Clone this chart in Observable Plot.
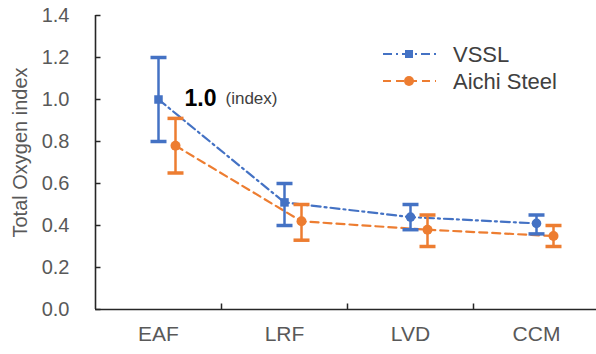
<!DOCTYPE html>
<html><head><meta charset="utf-8">
<script src="https://cdn.jsdelivr.net/npm/d3@7"></script>
<script src="https://cdn.jsdelivr.net/npm/@observablehq/plot@0.6"></script>
<style>
body{margin:0;background:#fff;}
#wrap{position:relative;width:596px;height:354px;overflow:hidden;}
#wrap svg{position:absolute;left:0;top:0;}
</style></head><body><div id="wrap"></div>
<script>
const categories = ["EAF", "LRF", "LVD", "CCM"];
const seriesNames = ["VSSL", "Aichi Steel"];
const vsslMean = [1.00, 0.51, 0.44, 0.41];
const vsslLow = [0.80, 0.40, 0.38, 0.36];
const vsslHigh = [1.20, 0.60, 0.50, 0.45];
const vsslSymbol = ["square", "square", "circle", "circle"];
const aichiMean = [0.78, 0.42, 0.38, 0.35];
const aichiLow = [0.65, 0.33, 0.30, 0.30];
const aichiHigh = [0.91, 0.50, 0.45, 0.40];
const yTicks = [0, 0.2, 0.4, 0.6, 0.8, 1.0, 1.2, 1.4];
const xBoundaries = [1, 2, 3];
const yTitle = "Total Oxygen index";
const noteValue = "1.0";
const noteUnit = "(index)";

const blue = "#4472C4", orange = "#ED7D31", axisColor = "#595959", lineColor = "#262626";
const font = "'Liberation Sans', Arial, sans-serif";

const rows = (mean, lo, hi) => categories.map((c, i) => ({cat: c, pos: i + 0.5, mean: mean[i], lo: lo[i], hi: hi[i]}));
const vs = rows(vsslMean, vsslLow, vsslHigh).map((d, i) => ({...d, sym: vsslSymbol[i]}));
const ai = rows(aichiMean, aichiLow, aichiHigh);
const off = 17;

const cap = {draw(ctx) { ctx.moveTo(-8, 0); ctx.lineTo(8, 0); }};
const tickRight = {draw(ctx) { ctx.moveTo(0, 0); ctx.lineTo(5, 0); }};
const tickUp = {draw(ctx) { ctx.moveTo(0, 0); ctx.lineTo(0, -6); }};

const chart = Plot.plot({
  width: 596, height: 354,
  marginLeft: 95, marginRight: 0, marginTop: 15, marginBottom: 45,
  style: {fontFamily: font, background: "transparent", overflow: "visible"},
  x: {type: "linear", domain: [0, 4], range: [95, 599], axis: null},
  y: {domain: [0, 1.4], range: [309, 15], axis: null},
  symbol: {type: "identity"},
  marks: [
    // axes
    Plot.axisY(yTicks, {tickSize: 0, tickPadding: 26, tickFormat: d => d.toFixed(1), fontSize: 20, color: axisColor, label: null}),
    Plot.axisX(categories.map((c, i) => i + 0.5), {tickSize: 0, tickPadding: 17, tickFormat: d => categories[Math.floor(d)], fontSize: 21, color: axisColor, label: null}),
    Plot.text([yTitle], {frameAnchor: "left", textAnchor: "middle", rotate: -90, dx: -75, dy: -10, fontSize: 20, fill: axisColor, text: d => d}),
    Plot.ruleY([0], {stroke: lineColor, strokeWidth: 1.6}),
    Plot.ruleX([0], {y1: 0, y2: 1.4, stroke: lineColor, strokeWidth: 1.6}),
    Plot.dot(yTicks, {x: 0, y: d => d, symbol: tickRight, r: 1, fill: "none", stroke: lineColor, strokeWidth: 1.5}),
    Plot.dot(xBoundaries, {x: d => d, y: 0, symbol: tickUp, r: 1, fill: "none", stroke: lineColor, strokeWidth: 1.5}),
    // lines
    Plot.line(vs, {x: "pos", y: "mean", stroke: blue, strokeWidth: 2.2, strokeDasharray: "9,4,2,4"}),
    Plot.line(ai, {x: "pos", y: "mean", dx: off, stroke: orange, strokeWidth: 2.2, strokeDasharray: "8,5"}),
    // error bars
    Plot.ruleX(vs, {x: "pos", y1: "lo", y2: "hi", stroke: blue, strokeWidth: 2.5}),
    Plot.dot(vs, {x: "pos", y: "lo", symbol: cap, r: 1, fill: "none", stroke: blue, strokeWidth: 3.5}),
    Plot.dot(vs, {x: "pos", y: "hi", symbol: cap, r: 1, fill: "none", stroke: blue, strokeWidth: 3.5}),
    Plot.ruleX(ai, {x: "pos", y1: "lo", y2: "hi", dx: off, stroke: orange, strokeWidth: 2.5}),
    Plot.dot(ai, {x: "pos", y: "lo", dx: off, symbol: cap, r: 1, fill: "none", stroke: orange, strokeWidth: 3.5}),
    Plot.dot(ai, {x: "pos", y: "hi", dx: off, symbol: cap, r: 1, fill: "none", stroke: orange, strokeWidth: 3.5}),
    // markers
    Plot.dot(vs, {x: "pos", y: "mean", symbol: "sym", r: 4.8, fill: blue, stroke: "none"}),
    Plot.dot(ai, {x: "pos", y: "mean", dx: off, symbol: "circle", r: 5, fill: orange, stroke: "none"}),
    // annotation
    Plot.text([vs[0]], {x: "pos", y: "mean", text: () => noteValue, dx: 26, dy: -1, textAnchor: "start", fontSize: 23, fontWeight: "bold", fill: "#000"}),
    Plot.text([vs[0]], {x: "pos", y: "mean", text: () => noteUnit, dx: 67, dy: -1, textAnchor: "start", fontSize: 17, fill: "#404040"})
  ]
});
document.getElementById("wrap").appendChild(chart);

// legend
const leg = d3.select("#wrap").append("svg").attr("width", 596).attr("height", 354)
  .style("pointer-events", "none").style("font-family", font);
const items = [
  {name: seriesNames[0], color: blue, dash: "9,4,2,4", shape: "square", y: 54},
  {name: seriesNames[1], color: orange, dash: "8,5", shape: "circle", y: 81}
];
items.forEach(it => {
  const g = leg.append("g");
  g.append("line").attr("x1", 383).attr("x2", 436).attr("y1", it.y).attr("y2", it.y)
    .attr("stroke", it.color).attr("stroke-width", 2.2).attr("stroke-dasharray", it.dash);
  if (it.shape === "square") g.append("rect").attr("x", 405).attr("y", it.y - 4).attr("width", 8).attr("height", 8).attr("fill", it.color);
  else g.append("circle").attr("cx", 409).attr("cy", it.y).attr("r", 5).attr("fill", it.color);
  g.append("text").attr("x", 453).attr("y", it.y + 7.5).attr("font-size", 22).attr("fill", "#404040").text(it.name);
});
</script>
</body></html>
